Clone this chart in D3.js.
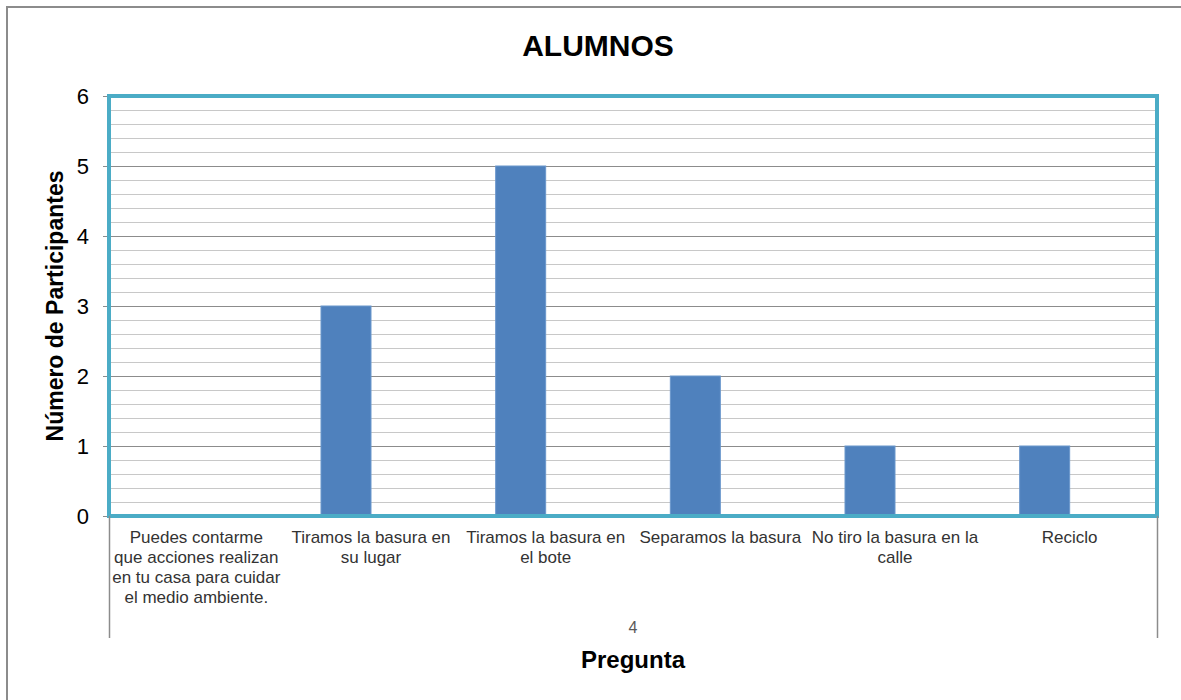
<!DOCTYPE html>
<html>
<head>
<meta charset="utf-8">
<script src="https://cdn.jsdelivr.net/npm/d3@7/dist/d3.min.js"></script>
<style>
  html, body { margin: 0; padding: 0; background: #fff; overflow: hidden; }
  svg { display: block; }
  text { font-family: Arial, "Liberation Sans", sans-serif; }
</style>
</head>
<body>
<svg id="chart" width="1181" height="700"></svg>
<script>
const categories = [
  ["Puedes contarme", "que acciones realizan", "en tu casa para cuidar", "el medio ambiente."],
  ["Tiramos la basura en", "su lugar"],
  ["Tiramos la basura en", "el bote"],
  ["Separamos la basura"],
  ["No tiro la basura en la", "calle"],
  ["Reciclo"]
];
const values = [0, 3, 5, 2, 1, 1];
const yTicks = [0, 1, 2, 3, 4, 5, 6];
const groupLabel = "4";
const chartTitle = "ALUMNOS";
const xTitle = "Pregunta";
const yTitle = "Número de Participantes";

const svg = d3.select("#chart");
const m = { left: 109, right: 1157, top: 96, bottom: 516 };

// outer chart border: only left and top edges fall inside the frame
svg.append("path").attr("d", "M7,700 L7,7 L1181,7")
  .attr("fill", "none").attr("stroke", "#8c8c8c").attr("stroke-width", 2);

const x = d3.scaleBand().domain(d3.range(categories.length)).range([m.left, m.right]);
const y = d3.scaleLinear().domain([0, 6]).range([m.bottom, m.top]);

// minor gridlines
const minor = d3.range(0, 6.0001, 0.2).filter(v => Math.abs(v - Math.round(v)) > 1e-6);
svg.append("g").selectAll("line").data(minor).join("line")
  .attr("x1", m.left).attr("x2", m.right)
  .attr("y1", d => Math.round(y(d)) + 0.5).attr("y2", d => Math.round(y(d)) + 0.5)
  .attr("stroke", "#c8c8c8").attr("stroke-width", 1);
// major gridlines
svg.append("g").selectAll("line").data(yTicks).join("line")
  .attr("x1", m.left - 6).attr("x2", m.right)
  .attr("y1", d => Math.round(y(d)) + 0.5).attr("y2", d => Math.round(y(d)) + 0.5)
  .attr("stroke", "#8c8c8c").attr("stroke-width", 1);

// bars (end at category centre)
const bw = 50;
svg.append("g").selectAll("rect").data(values).join("rect")
  .attr("x", (d, i) => x(i) + x.bandwidth() / 2 - bw)
  .attr("width", bw)
  .attr("y", d => y(d))
  .attr("height", d => y(0) - y(d))
  .attr("fill", "#4f81bd")
  .attr("stroke", "#6a97cc").attr("stroke-width", 1);

// plot area border
svg.append("rect").attr("x", m.left).attr("y", m.top)
  .attr("width", m.right - m.left).attr("height", m.bottom - m.top)
  .attr("fill", "none").attr("stroke", "#4bacc6").attr("stroke-width", 4);

// y axis using d3 axis
const yAxis = svg.append("g").attr("transform", `translate(${m.left},0)`)
  .call(d3.axisLeft(y).tickValues(yTicks).tickFormat(d3.format("d")).tickSize(0).tickPadding(20));
yAxis.select(".domain").remove();
yAxis.selectAll("text").attr("font-size", 22).attr("fill", "#000")
  .attr("font-family", "Arial, 'Liberation Sans', sans-serif");

// group bracket lines
[m.left, m.right].forEach(px => {
  svg.append("line").attr("x1", px + 0.5).attr("x2", px + 0.5)
    .attr("y1", m.bottom).attr("y2", 638).attr("stroke", "#8c8c8c").attr("stroke-width", 1.5);
});

// category labels
const cat = svg.append("g");
categories.forEach((lines, i) => {
  const cx = x(i) + x.bandwidth() / 2;
  const t = cat.append("text").attr("x", cx).attr("y", 543)
    .attr("text-anchor", "middle").attr("font-size", 17).attr("fill", "#333");
  lines.forEach((l, j) => t.append("tspan").attr("x", cx)
    .attr("dy", j === 0 ? 0 : 20).text(l));
});

svg.append("text").attr("x", (m.left + m.right) / 2).attr("y", 633)
  .attr("text-anchor", "middle").attr("font-size", 16).attr("fill", "#595959").text(groupLabel);

svg.append("text").attr("x", (m.left + m.right) / 2).attr("y", 668)
  .attr("text-anchor", "middle").attr("font-size", 24).attr("font-weight", "bold").attr("fill", "#000").text(xTitle);

svg.append("text").attr("x", 598).attr("y", 56)
  .attr("text-anchor", "middle").attr("font-size", 30).attr("font-weight", "bold").attr("fill", "#000").text(chartTitle);

svg.append("text").attr("transform", `translate(63,${(m.top + m.bottom) / 2}) rotate(-90)`)
  .attr("text-anchor", "middle").attr("font-size", 23).attr("font-weight", "bold").attr("fill", "#000").text(yTitle);
</script>
</body>
</html>
